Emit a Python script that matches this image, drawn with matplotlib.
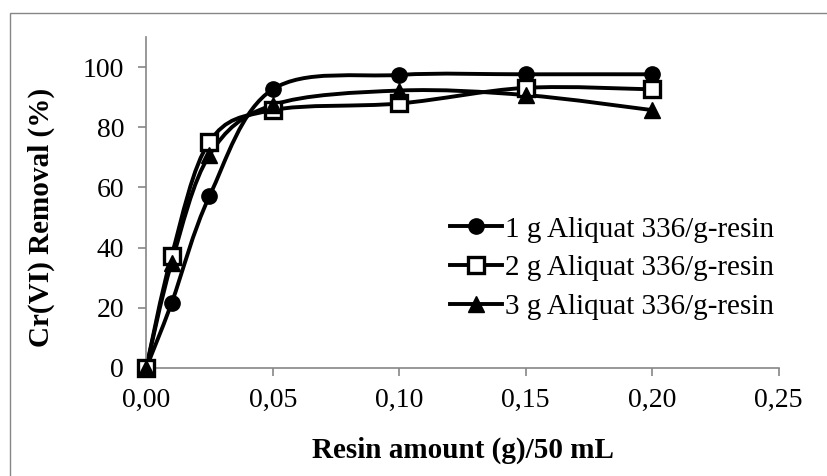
import numpy as np
import matplotlib
matplotlib.use("Agg")
import matplotlib.pyplot as plt
from matplotlib.path import Path
from matplotlib.patches import PathPatch, Rectangle
from matplotlib.lines import Line2D

plt.rcParams['font.family'] = ['Liberation Serif', 'DejaVu Serif']

# data
resin = [0.0, 0.01, 0.025, 0.05, 0.10, 0.15, 0.20]
removal_1g = [0.0, 21.5, 57.1, 92.6, 97.4, 97.6, 97.6]
removal_2g = [0.0, 37.2, 75.2, 85.7, 87.9, 93.1, 92.6]
removal_3g = [0.0, 34.9, 70.8, 87.4, 92.2, 90.7, 85.7]
series_names = ['1 g Aliquat 336/g-resin', '2 g Aliquat 336/g-resin', '3 g Aliquat 336/g-resin']
x_ticks = [0.0, 0.05, 0.10, 0.15, 0.20, 0.25]
x_ticklabels = ['0,00', '0,05', '0,10', '0,15', '0,20', '0,25']
y_ticks = [0, 20, 40, 60, 80, 100]

GREY = '#868686'


def smooth_path(x, y):
    # Excel style smoothed line: catmull-rom segments as cubic bezier
    pts = np.column_stack([x, y]).astype(float)
    n = len(pts)
    verts = [pts[0]]
    codes = [Path.MOVETO]
    for i in range(n - 1):
        p0 = pts[max(i - 1, 0)]
        p1 = pts[i]
        p2 = pts[i + 1]
        p3 = pts[min(i + 2, n - 1)]
        c1 = p1 + (p2 - p0) / 6.0
        c2 = p2 - (p3 - p1) / 6.0
        verts += [c1, c2, p2]
        codes += [Path.CURVE4] * 3
    return Path(verts, codes)


fig = plt.figure(figsize=(8.28, 4.76), dpi=100)
ax = fig.add_axes([0.1766, 0.2269, 0.7638, 0.6954])

# outer chart border
fig.patches.append(Rectangle((10 / 828, -0.05), 1.2, 1 - 12.5 / 476 + 0.05,
                             transform=fig.transFigure, fill=False,
                             edgecolor=GREY, linewidth=1.0))

styles = [
    dict(marker='o', markersize=11, markerfacecolor='black'),
    dict(marker='s', markersize=11.5, markerfacecolor='white', markeredgewidth=2.4),
    dict(marker='^', markersize=11, markerfacecolor='black'),
]
LW = 2.8
handles = []
for ys, st, name in zip([removal_1g, removal_2g, removal_3g], styles, series_names):
    ax.add_patch(PathPatch(smooth_path(resin, ys), fill=False, edgecolor='black',
                           linewidth=LW, capstyle='round', joinstyle='round'))
    ax.plot(resin, ys, linestyle='none', color='black', markeredgecolor='black',
            clip_on=False, zorder=3, **st)
    handles.append(Line2D([], [], color='black', linewidth=LW,
                          markeredgecolor='black', **st))

ax.set_xlim(0, 0.25)
ax.set_ylim(0, 110)
ax.set_xticks(x_ticks)
ax.set_xticklabels(x_ticklabels)
ax.set_yticks(y_ticks)

for side in ['top', 'right']:
    ax.spines[side].set_visible(False)
for side in ['left', 'bottom']:
    ax.spines[side].set_color(GREY)
    ax.spines[side].set_linewidth(1.2)
ax.tick_params(axis='both', colors=GREY, length=6, width=1.2, labelsize=20,
               labelcolor='black')
ax.tick_params(axis='x', pad=8)
ax.tick_params(axis='y', pad=10)

ax.set_xlabel('Resin amount (g)/50 mL', fontsize=21, fontweight='bold')
ax.set_ylabel('Cr(VI) Removal (%)', fontsize=21, fontweight='bold')
ax.xaxis.set_label_coords(0.5, -0.207)
ax.yaxis.set_label_coords(-0.144, 0.456)

leg = ax.legend(handles, series_names, loc='center left', bbox_to_anchor=(0.48, 0.302),
                frameon=False, fontsize=21, handlelength=1.8, handletextpad=0.1,
                labelspacing=0.42, borderpad=0, borderaxespad=0, numpoints=1)

fig.savefig('out.png', dpi=100)
